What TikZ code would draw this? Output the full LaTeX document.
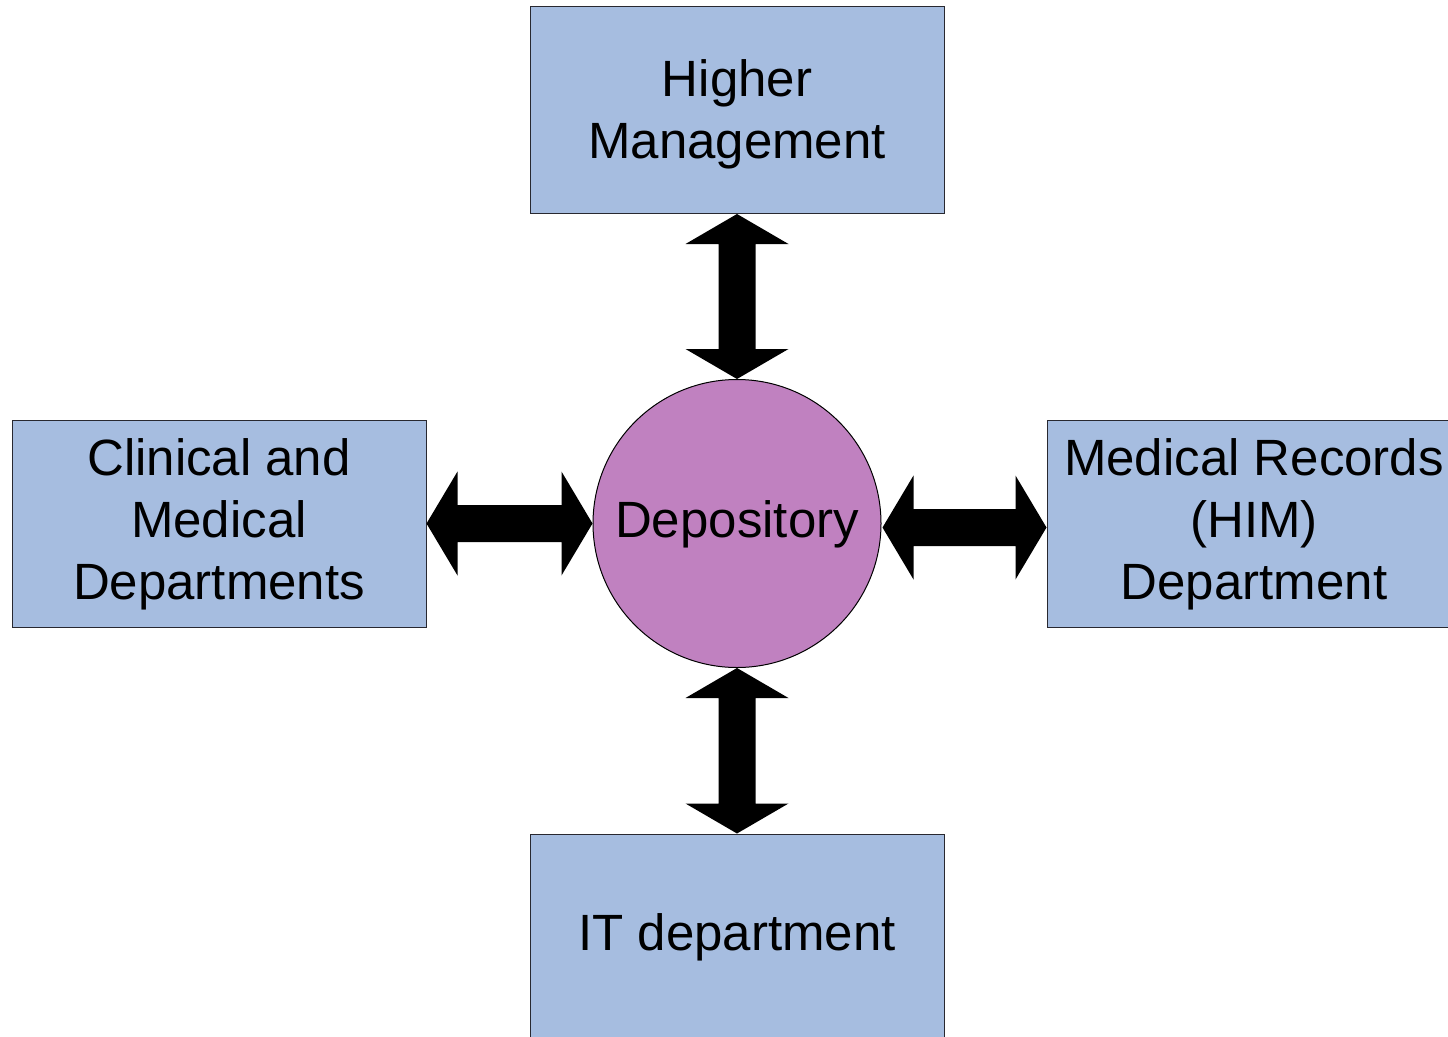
\documentclass[tikz,border=0pt]{standalone}
\usepackage{fontspec}
\setmainfont{Liberation Sans}
\usetikzlibrary{calc}
\definecolor{boxblue}{RGB}{166,189,224}
\definecolor{circpink}{RGB}{192,129,192}
\definecolor{edgegray}{RGB}{40,40,48}
\tikzset{
  deptbox/.style={rectangle, draw=edgegray, line width=1pt, fill=boxblue,
    minimum width=414pt, minimum height=207pt, inner sep=0pt},
  hubcircle/.style={circle, draw=black, line width=1pt, fill=circpink,
    minimum size=288pt, inner sep=0pt},
  fatarrow/.style={fill=black, draw=none},
  lbl/.style={inner sep=0pt, align=center, font=\fontsize{51}{62}\selectfont}
}
% vertical double arrow from point #1 (top) to #2 (bottom)
\newcommand{\vdblarrow}[2]{%
  \path[fatarrow] (#1) -- ($(#1)+(51.5,30)$) -- ($(#1)+(18.5,30)$)
    -- ($(#2)+(18.5,-30)$) -- ($(#2)+(51.5,-30)$) -- (#2)
    -- ($(#2)+(-51.5,-30)$) -- ($(#2)+(-18.5,-30)$)
    -- ($(#1)+(-18.5,30)$) -- ($(#1)+(-51.5,30)$) -- cycle;}
% horizontal double arrow from point #1 (left) to #2 (right)
\newcommand{\hdblarrow}[2]{%
  \path[fatarrow] (#1) -- ($(#1)+(31,-52)$) -- ($(#1)+(31,-18.5)$)
    -- ($(#2)+(-31,-18.5)$) -- ($(#2)+(-31,-52)$) -- (#2)
    -- ($(#2)+(-31,52)$) -- ($(#2)+(-31,18.5)$)
    -- ($(#1)+(31,18.5)$) -- ($(#1)+(31,52)$) -- cycle;}
\begin{document}
\begin{tikzpicture}[x=1pt,y=-1pt]
\clip (0,0) rectangle (1448,1036);
\fill[white] (0,0) rectangle (1448,1036);

\node[deptbox] (top) at (737,110) {};
\node[lbl] (topT) at ($(top.center)+(0,4)$) {Higher\\Management};
\node[deptbox] (left) at (219,523.5) {};
\node[lbl] (leftT) at ($(left.center)+(0,1)$) {Clinical and\\Medical\\Departments};
\node[deptbox] (right) at (1254,523.5) {};
\node[lbl] (rightT) at ($(right.center)+(0,1)$) {Medical Records\\(HIM)\\Department};
\node[deptbox] (bottom) at (737,937.5) {};
\node[lbl] (bottomT) at ($(bottom.center)+(0,0)$) {IT department};
\node[hubcircle] (dep) at (737,523.5) {};
\node[lbl] (depT) at ($(dep.center)+(0,1)$) {Depository};

\coordinate (rA) at ($(dep.east)+(1,4)$);
\coordinate (rB) at (right.west |- rA);

\vdblarrow{top.south}{dep.north}
\vdblarrow{dep.south}{bottom.north}
\hdblarrow{left.east}{dep.west}
\hdblarrow{rA}{rB}
\end{tikzpicture}
\end{document}
